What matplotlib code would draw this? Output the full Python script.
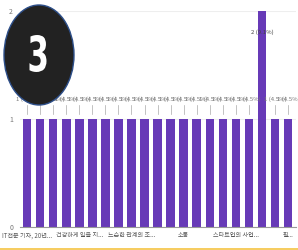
import matplotlib
matplotlib.use('Agg')
import matplotlib.pyplot as plt
from matplotlib.patches import Ellipse, PathPatch
from matplotlib.textpath import TextPath
from matplotlib.font_manager import FontProperties
from matplotlib.transforms import Affine2D

plt.rcParams['font.family'] = ['Noto Sans CJK KR', 'DejaVu Sans']

# Données
categories = [
    'IT전문 기자, 20년...', '개발 문화', '글쓰기', '기록',
    '건강하게 일을 지...', '네트워킹', '뉴스레터', '독서',
    '느슨한 관계의 조...', '리더십', '마케팅', '브랜딩',
    '소통', '성장', '스터디', '시간 관리',
    '스타트업의 사업...', '커리어', '커뮤니티', '피드백',
    '필...',
]
values = [1, 1, 1, 1, 1, 1, 1, 1, 1, 1, 1, 1, 1, 1, 1, 1, 1, 1, 2, 1, 1]
total = sum(values)
shown_ticks = [0, 4, 8, 12, 16, 20]

fig = plt.figure(figsize=(2.98, 2.5), dpi=100)
ax = fig.add_axes([20 / 298, 23 / 250, 276 / 298, 216 / 250])

x = list(range(len(values)))
ax.bar(x, values, width=0.66, color='#673ab7', zorder=2)

# Étiquettes des valeurs
for i, v in zip(x, values):
    label = f"{v} ({v / total * 100:.1f}%)"
    if v == max(values):
        ax.text(i, v - 0.2, label, ha='center', va='center', fontsize=4.3,
                color='#444444', zorder=3)
    else:
        ax.plot([i, i], [v + 0.05, v + 0.13], color='#aaaaaa', lw=0.5, zorder=1)
        ax.text(i, v + 0.18, label, ha='center', va='center', fontsize=4.3,
                color='#777777', zorder=3)

ax.set_xlim(-0.54, 20.6)
ax.set_ylim(0, 2)
ax.set_yticks([0, 1, 2])
ax.set_xticks(shown_ticks)
ax.set_xticklabels([categories[i] for i in shown_ticks])
ax.tick_params(axis='y', length=0, labelsize=5, labelcolor='#777777', pad=5)
ax.tick_params(axis='x', length=0, labelsize=4.4, labelcolor='#555555', pad=3)
ax.grid(axis='y', color='#eeeeee', lw=0.8, zorder=0)
for s in ['top', 'right', 'left']:
    ax.spines[s].set_visible(False)
ax.spines['bottom'].set_color('#999999')
ax.spines['bottom'].set_linewidth(0.8)

# Pastille noire avec le chiffre
fig.patches.append(Ellipse((39 / 298, 1 - 55 / 250), 70 / 298, 100 / 250,
                           transform=fig.transFigure, facecolor='#222222',
                           edgecolor='#2d4f8a', lw=1.0, zorder=5))
tp = TextPath((0, 0), '3', size=1,
              prop=FontProperties(family='DejaVu Sans', weight='bold'))
ext = tp.get_extents()
w_px, h_px = 17, 37
tr = (Affine2D().translate(-ext.x0, -ext.y0)
      .scale(w_px / ext.width, h_px / ext.height)
      .translate(38 - w_px / 2, 250 - 72)
      .scale(1 / 100) + fig.dpi_scale_trans)
fig.patches.append(PathPatch(tp, transform=tr, facecolor='white',
                             edgecolor='none', zorder=6))

# Ligne jaune en bas
fig.add_artist(plt.Line2D([0, 1], [1.5 / 250, 1.5 / 250], transform=fig.transFigure,
                          color='#f5c342', lw=1.2))

fig.savefig('out.png', dpi=100)
